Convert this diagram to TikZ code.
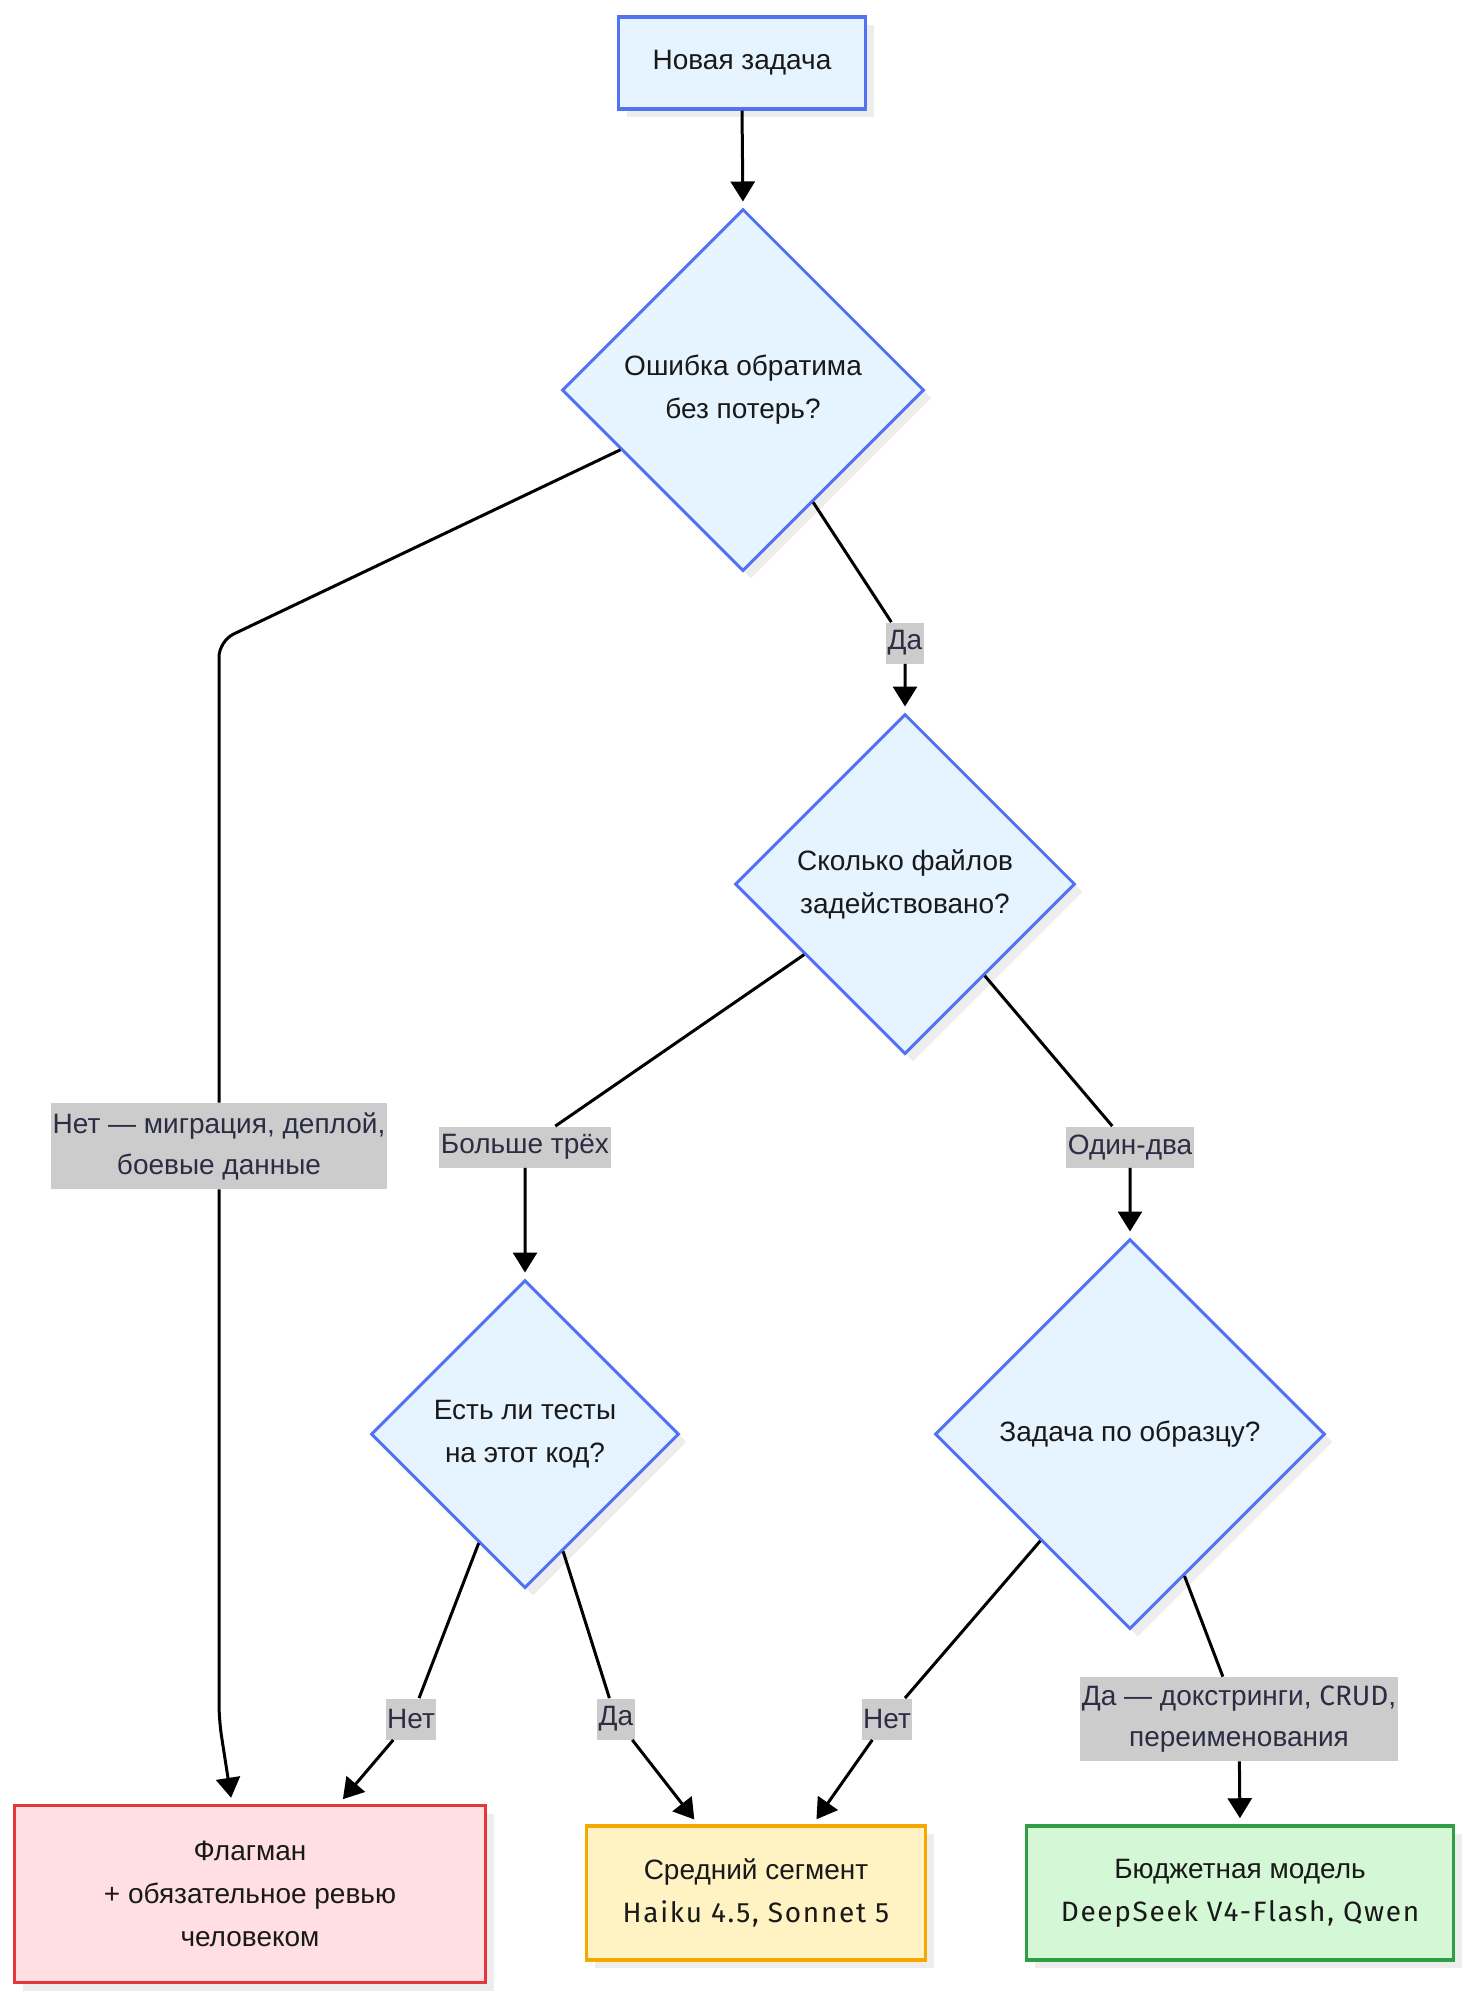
\documentclass[tikz,border=0pt]{standalone}
\usepackage{fontspec}
\setmainfont{Liberation Sans}
\newfontfamily\firafont[LetterSpace=6]{Fira Sans}
\newfontfamily\firatight{Fira Sans}
\usepackage{tikz}
\usetikzlibrary{arrows.meta}
\usetikzlibrary{shapes.geometric}
\usetikzlibrary{shadows}

\definecolor{qfill}{HTML}{E6F4FF}
\definecolor{qline}{HTML}{5272F2}
\definecolor{rfill}{HTML}{FFDFE2}
\definecolor{rline}{HTML}{E2383B}
\definecolor{yfill}{HTML}{FFF3C4}
\definecolor{yline}{HTML}{F7A800}
\definecolor{gfill}{HTML}{D4F8D6}
\definecolor{gline}{HTML}{2F9E44}
\definecolor{lblgray}{HTML}{CCCCCC}
\definecolor{lbltext}{HTML}{2C2C44}

\tikzset{
  base/.style={draw, align=center, text=black!90,
    font=\fontsize{14}{21.5}\selectfont,
    drop shadow={shadow xshift=4pt,shadow yshift=-4pt,fill=black!7,opacity=1}},
  startbox/.style={base, rectangle, fill=qfill, draw=qline, line width=1.6pt,
    minimum width=123.5pt, minimum height=46pt},
  question/.style={base, diamond, aspect=1, inner sep=0pt, fill=qfill,
    draw=qline, line width=1.5pt},
  result/.style={base, rectangle, line width=1.8pt, minimum height=67pt},
  lbl/.style={fill=lblgray, text=lbltext, align=center, inner xsep=0.8pt,
    inner ysep=0pt, minimum height=20.5pt,
    font=\fontsize{14}{20.5}\selectfont},
  flow/.style={line width=1.5pt, -{Triangle[length=10pt,width=12pt]},
    shorten >=3pt, rounded corners=8pt},
}

\begin{document}
\begin{tikzpicture}[x=0.5pt,y=-0.5pt]
    \useasboundingbox (0,0) rectangle (1463,1999);

    % questions and answers
    \node[startbox] (start) at (742,63) {Новая задача};
    \node[question, minimum width=181pt, minimum height=181pt] (d1) at (743,390)
        {Ошибка обратима\\без потерь?};
    \node[question, minimum width=170pt, minimum height=170pt] (d2) at (905,884)
        {Сколько файлов\\задействовано?};
    \node[question, minimum width=154pt, minimum height=154pt] (d3) at (525,1434)
        {Есть ли тесты\\на этот код?};
    \node[question, minimum width=195pt, minimum height=195pt] (d4) at (1130,1434)
        {Задача по образцу?};

    \node[result, fill=rfill, draw=rline, minimum width=235.5pt, minimum height=88.5pt]
        (flag) at (250,1894) {Флагман\\+ обязательное ревью\\человеком};
    \node[result, fill=yfill, draw=yline, minimum width=169.5pt] (mid) at (756,1893)
        {Средний сегмент\\{\firafont Haiku 4.5, Sonnet 5}};
    \node[result, fill=gfill, draw=gline, minimum width=213.5pt] (budget) at (1240,1893)
        {Бюджетная модель\\{\firafont DeepSeek V4-Flash, Qwen}};

    % edge labels
    \node[lbl] (lYes1) at (905,643) {Да};
    \node[lbl, minimum height=43pt] (lNo1) at (219,1146)
        {Нет — миграция, деплой,\\боевые данные};
    \node[lbl] (lMore) at (525,1147) {Больше трёх};
    \node[lbl] (lOne) at (1130,1147) {Один-два};
    \node[lbl] (lNo2) at (411,1719) {Нет};
    \node[lbl] (lYes2) at (616,1719) {Да};
    \node[lbl] (lNo3) at (887,1719) {Нет};
    \node[lbl, minimum height=42pt] (lYes3) at (1239,1719)
        {Да — докстринги, {\firatight CRUD},\\переименования};

    \coordinate (bendA) at (219,641);
    \coordinate (bendB) at (219,1720);

    % connectors
    \draw[flow] (start.south) -- (d1.north);
    \draw[flow] (d1.206) -- (bendA) -- (lNo1) -- (bendB) -- ([xshift=-9pt]flag.north);
    \draw[flow] (d1.302) -- (lYes1) -- (d2.north);
    \draw[flow] (d2.215) -- (lMore) -- (d3.north);
    \draw[flow] (d2.311) -- (lOne) -- (d4.north);
    \draw[flow] (d3.247) -- (lNo2) -- ([xshift=44.5pt]flag.north);
    \draw[flow] (d3.288) -- (lYes2) -- ([xshift=-29pt]mid.north);
    \draw[flow] (d4.230) -- (lNo3) -- ([xshift=28.5pt]mid.north);
    \draw[flow] (d4.291) -- (lYes3) -- (budget.north);
\end{tikzpicture}
\end{document}
